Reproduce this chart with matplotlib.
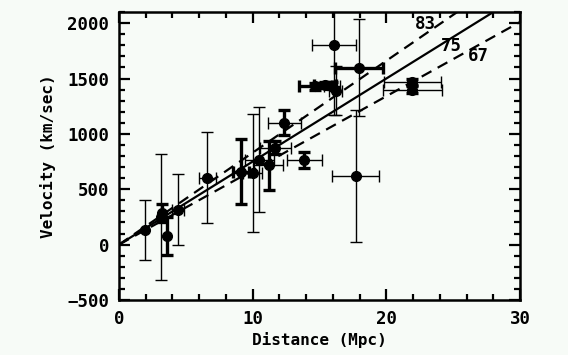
import matplotlib
matplotlib.use("Agg")
import matplotlib.pyplot as plt
import numpy as np
from matplotlib.ticker import MultipleLocator

# Data (distance in Mpc, velocity in km/s)
dist = [1.95, 3.15, 3.25, 3.6, 4.4, 6.62, 9.15, 10.0, 10.5, 11.2, 11.7, 12.38, 13.85,
        16.08, 17.95, 14.7, 15.4, 15.9, 16.2, 21.95, 21.95, 17.7]
vel = [131, 250, 285, 77, 317, 605, 660, 648, 768, 717, 876, 1102, 768,
       1799, 1597, 1430, 1440, 1435, 1390, 1470, 1400, 618]
dist_err = [0.0, 0.0, 0.0, 0.0, 0.45, 0.63, 0.6, 0.7, 1.07, 1.1, 1.15, 1.2, 1.3,
            1.65, 1.8, 1.25, 0.8, 0.6, 0.5, 2.15, 2.2, 1.78]
vel_err = [270, 570, 80, 172, 322, 413, 290, 535, 476, 221, 60, 115, 72,
           632, 436, 30, 30, 30, 220, 30, 30, 597]
thick_x = [0, 0, 0, 0, 0, 0, 1, 0, 0, 0, 0, 0, 0, 0, 1, 1, 1, 0, 0, 0, 0, 0]
thick_y = [0, 0, 1, 1, 0, 0, 1, 0, 0, 1, 1, 1, 1, 0, 0, 1, 1, 1, 0, 1, 1, 0]

h0_values = [83, 75, 67]
h0_styles = ["--", "-", "--"]
h0_label_pos = [(22.9, 1993), (24.9, 1794), (26.85, 1700)]

bg = "#f7fbf7"
fig = plt.figure(figsize=(5.68, 3.55), dpi=100, facecolor=bg)
ax = fig.add_axes([0.2095, 0.155, 0.706, 0.811], facecolor=bg)

xs = np.array([0, 30])
for h, ls in zip(h0_values, h0_styles):
    if ls == "--":
        ax.plot(xs, h * xs, color="black", lw=1.6, dashes=(5, 3.2), zorder=2)
    else:
        ax.plot(xs, h * xs, color="black", lw=1.6, zorder=2)

for x, y, xe, ye, tx, ty in zip(dist, vel, dist_err, vel_err, thick_x, thick_y):
    if xe > 0:
        ax.errorbar([x], [y], xerr=[xe], fmt="none", ecolor="black",
                    elinewidth=2.4 if tx else 1.0, capsize=4,
                    capthick=2.4 if tx else 1.0, zorder=3)
    if ye > 0:
        ax.errorbar([x], [y], yerr=[ye], fmt="none", ecolor="black",
                    elinewidth=2.4 if ty else 1.0, capsize=4,
                    capthick=2.4 if ty else 1.0, zorder=3)
ax.plot(dist, vel, "o", color="black", ms=7, zorder=4)

mono = "DejaVu Sans Mono"
for h, (lx, ly) in zip(h0_values, h0_label_pos):
    ax.text(lx, ly, str(h), fontsize=12.5, fontweight="bold", family=mono,
            ha="center", va="center", zorder=5)

ax.set_xlim(0, 30)
ax.set_ylim(-500, 2100)
ax.xaxis.set_major_locator(MultipleLocator(10))
ax.xaxis.set_minor_locator(MultipleLocator(2))
ax.yaxis.set_major_locator(MultipleLocator(500))
ax.yaxis.set_minor_locator(MultipleLocator(100))
ax.tick_params(which="both", direction="in", top=True, right=True, width=1.6)
ax.tick_params(which="major", length=8, pad=7)
ax.tick_params(which="minor", length=4)
for s in ax.spines.values():
    s.set_linewidth(1.8)
for lab in ax.get_xticklabels() + ax.get_yticklabels():
    lab.set_family(mono)
    lab.set_fontweight("bold")
    lab.set_fontsize(12.5)
ax.set_yticks([-500, 0, 500, 1000, 1500, 2000])
ax.set_yticklabels(["\u2212500", "0", "500", "1000", "1500", "2000"],
                   family=mono, fontweight="bold", fontsize=12.5)

ax.set_xlabel("Distance (Mpc)", family=mono, fontweight="bold", fontsize=11.5, labelpad=3)
ax.set_ylabel("Velocity (km/sec)", family=mono, fontweight="bold", fontsize=11.5, labelpad=8)

fig.savefig("out.png", dpi=100, facecolor=bg)
